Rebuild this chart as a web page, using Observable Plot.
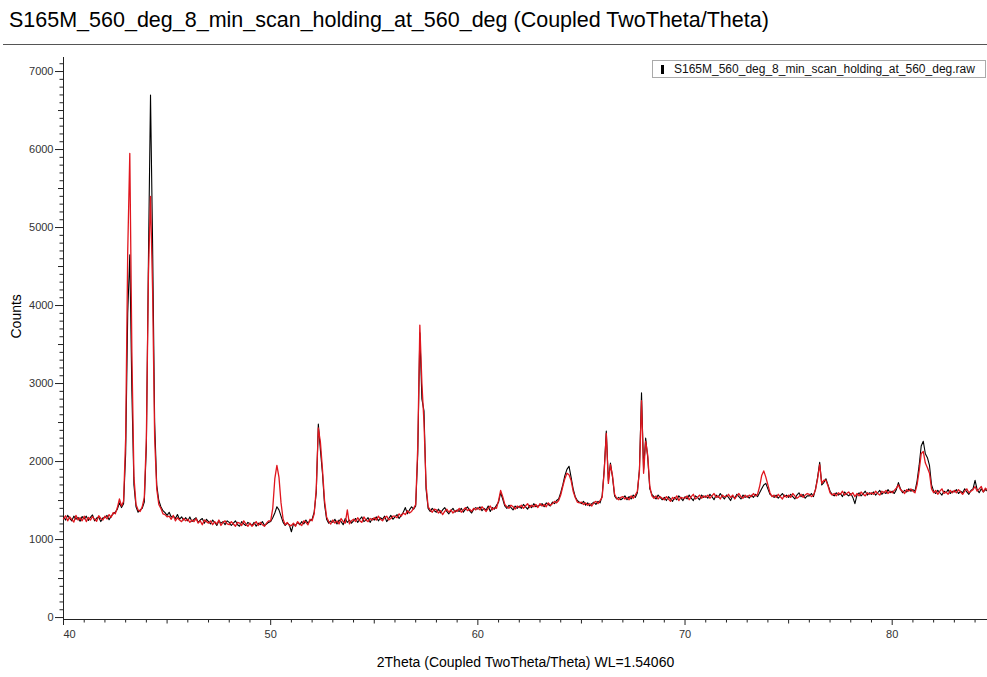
<!DOCTYPE html>
<html>
<head>
<meta charset="utf-8">
<script src="https://cdn.jsdelivr.net/npm/d3@7"></script>
<script src="https://cdn.jsdelivr.net/npm/@observablehq/plot@0.6"></script>
<style>
  body { margin: 0; background: #fff; font-family: Arial, "Liberation Sans", sans-serif; }
  #wrap { position: relative; width: 987px; height: 677px; overflow: hidden; background: #fff; }
  #title { position: absolute; left: 9px; top: 7px; font-size: 21.5px; color: #000; white-space: nowrap; line-height: 26px; }
  #rule { position: absolute; left: 3px; width: 984px; top: 44px; height: 0; border-top: 1.5px solid #555; }
  #chart { position: absolute; left: 0; top: 48px; }
  #legend { position: absolute; left: 652px; top: 60px; width: 332px; height: 16px; border: 1px solid #aaa; background: #fff;
            font-size: 12px; line-height: 16px; color: #111; white-space: nowrap; }
  #legend .swatch { position: absolute; left: 8px; top: 4px; width: 3px; height: 9px; background: #000; }
  #legend .lab { position: absolute; left: 21px; top: 0; }
</style>
</head>
<body>
<div id="wrap">
  <div id="title"></div>
  <div id="rule"></div>
  <div id="chart"></div>
  <div id="legend"><div class="swatch"></div><div class="lab"></div></div>
</div>
<script>
const chartTitle = "S165M_560_deg_8_min_scan_holding_at_560_deg (Coupled TwoTheta/Theta)";
const legendLabel = "S165M_560_deg_8_min_scan_holding_at_560_deg.raw";
const xLabel = "2Theta (Coupled TwoTheta/Theta) WL=1.54060";
const yLabel = "Counts";

const xTickValues = [40, 50, 60, 70, 80];
const yTickValues = [0, 1000, 2000, 3000, 4000, 5000, 6000, 7000];

// scan grid: 2theta from 40.0 in steps of 0.1 degree
const twoThetaStart = 40.0;
const twoThetaStep = 0.1;

// black trace counts (one row per degree, 40.x ... 84.x)
const blackCounts = [
  1290,1250,1310,1270,1240,1300,1260,1285,1235,1295, // 40
  1265,1300,1245,1285,1315,1240,1275,1290,1230,1280, // 41
  1280,1310,1255,1300,1330,1350,1390,1470,1410,1460, // 42
  2100,3900,4650,2900,1700,1420,1350,1380,1400,1480, // 43
  2200,4600,6700,4800,2500,1700,1500,1420,1370,1345, // 44
  1310,1350,1290,1300,1270,1320,1260,1290,1250,1280, // 45
  1240,1290,1230,1260,1280,1220,1250,1270,1210,1260, // 46
  1230,1200,1250,1220,1180,1240,1210,1230,1190,1240, // 47
  1220,1180,1210,1240,1190,1170,1230,1200,1180,1220, // 48
  1200,1180,1220,1170,1210,1190,1230,1180,1200,1220, // 49
  1230,1280,1340,1420,1380,1300,1220,1180,1210,1190, // 50
  1100,1200,1180,1220,1190,1230,1200,1250,1210,1240, // 51
  1260,1350,1600,2480,2150,1850,1450,1260,1210,1240, // 52
  1220,1260,1200,1250,1230,1190,1270,1220,1250,1210, // 53
  1240,1270,1220,1260,1290,1230,1250,1280,1220,1270, // 54
  1250,1290,1240,1280,1260,1300,1230,1270,1310,1260, // 55
  1290,1320,1270,1310,1350,1410,1330,1380,1420,1390, // 56
  1430,2100,3650,2800,2650,1650,1400,1360,1400,1370, // 57
  1350,1390,1340,1380,1410,1360,1330,1370,1400,1350, // 58
  1380,1360,1400,1350,1390,1420,1370,1340,1390,1410, // 59
  1390,1420,1370,1400,1380,1430,1360,1410,1390,1440, // 60
  1480,1600,1520,1430,1400,1440,1410,1380,1430,1400, // 61
  1430,1400,1450,1420,1390,1440,1410,1460,1420,1430, // 62
  1440,1460,1420,1470,1450,1430,1480,1460,1500,1520, // 63
  1600,1700,1820,1900,1940,1800,1650,1550,1500,1480, // 64
  1460,1490,1440,1470,1430,1460,1480,1450,1490,1470, // 65
  1560,1900,2390,1750,1980,1800,1560,1520,1540,1510, // 66
  1530,1560,1510,1550,1520,1570,1540,1600,1900,2880, // 67
  1900,2300,2050,1650,1580,1550,1520,1570,1540,1510, // 68
  1540,1500,1550,1520,1490,1540,1510,1560,1530,1500, // 69
  1550,1520,1570,1530,1500,1560,1540,1510,1570,1540, // 70
  1560,1530,1580,1550,1510,1570,1540,1590,1550,1520, // 71
  1570,1540,1500,1560,1530,1580,1550,1520,1570,1540, // 72
  1560,1530,1570,1540,1580,1550,1600,1650,1700,1720, // 73
  1650,1580,1560,1540,1570,1530,1560,1590,1550,1570, // 74
  1540,1580,1550,1520,1570,1600,1550,1580,1530,1560, // 75
  1560,1590,1550,1650,1800,1990,1700,1730,1780,1700, // 76
  1620,1580,1560,1600,1570,1590,1550,1610,1580,1560, // 77
  1590,1540,1460,1570,1600,1560,1590,1620,1570,1600, // 78
  1580,1610,1570,1600,1630,1580,1610,1590,1640,1600, // 79
  1620,1590,1640,1730,1650,1600,1630,1610,1650,1620, // 80
  1640,1620,1750,1950,2200,2260,2100,2050,1950,1700, // 81
  1620,1590,1630,1600,1570,1620,1600,1640,1590,1620, // 82
  1610,1640,1590,1620,1600,1650,1610,1580,1630,1650, // 83
  1760,1640,1600,1650,1610,1640,1620                 // 84
];

// red trace counts
const redCounts = [
  1265,1305,1240,1290,1255,1225,1310,1250,1280,1240, // 40
  1300,1230,1285,1250,1295,1260,1235,1305,1270,1250, // 41
  1300,1265,1320,1285,1345,1330,1410,1520,1430,1490, // 42
  2300,4700,5950,3400,1800,1450,1380,1360,1420,1540, // 43
  2300,4400,5400,4200,2300,1650,1450,1400,1330,1320, // 44
  1290,1300,1260,1310,1240,1280,1250,1230,1270,1240, // 45
  1260,1220,1250,1230,1270,1210,1240,1190,1250,1230, // 46
  1210,1240,1190,1230,1200,1250,1180,1220,1240,1200, // 47
  1190,1230,1200,1170,1220,1210,1180,1240,1200,1170, // 48
  1210,1170,1200,1230,1180,1220,1190,1170,1210,1240, // 49
  1240,1400,1780,1950,1800,1470,1260,1190,1220,1180, // 50
  1180,1210,1170,1230,1200,1180,1240,1220,1190,1260, // 51
  1240,1330,1650,2430,2250,1900,1500,1290,1230,1200, // 52
  1250,1210,1240,1200,1270,1230,1210,1380,1200,1240, // 53
  1260,1230,1280,1240,1220,1290,1250,1230,1270,1250, // 54
  1280,1250,1300,1260,1240,1280,1300,1250,1270,1300, // 55
  1300,1280,1330,1300,1340,1320,1370,1340,1360,1400, // 56
  1450,2200,3750,3000,2500,1700,1420,1380,1350,1390, // 57
  1380,1340,1370,1320,1360,1390,1350,1380,1340,1370, // 58
  1360,1400,1350,1380,1410,1370,1390,1360,1400,1380, // 59
  1410,1380,1420,1390,1360,1400,1430,1380,1410,1400, // 60
  1500,1630,1550,1450,1420,1400,1440,1420,1390,1430, // 61
  1410,1440,1400,1430,1460,1410,1440,1420,1450,1410, // 62
  1460,1430,1450,1420,1470,1440,1460,1490,1470,1500, // 63
  1570,1680,1780,1850,1830,1760,1620,1540,1480,1470, // 64
  1480,1450,1470,1440,1460,1430,1470,1490,1460,1500, // 65
  1540,1880,2360,1720,1960,1820,1580,1530,1510,1540, // 66
  1550,1520,1540,1510,1560,1530,1570,1620,1880,2780, // 67
  1850,2260,2080,1680,1560,1530,1560,1520,1550,1530, // 68
  1510,1550,1520,1490,1540,1520,1560,1500,1540,1530, // 69
  1530,1560,1510,1550,1580,1520,1540,1570,1530,1560, // 70
  1540,1570,1530,1560,1590,1540,1560,1520,1570,1550, // 71
  1550,1580,1540,1570,1520,1560,1590,1550,1530,1570, // 72
  1540,1570,1550,1590,1560,1580,1680,1820,1880,1800, // 73
  1700,1600,1550,1570,1540,1580,1550,1520,1570,1540, // 74
  1570,1540,1590,1560,1530,1550,1580,1540,1570,1590, // 75
  1580,1550,1570,1640,1780,1960,1720,1760,1760,1690, // 76
  1600,1570,1590,1560,1600,1580,1620,1570,1590,1610, // 77
  1570,1600,1550,1590,1560,1610,1580,1560,1600,1580, // 78
  1600,1580,1620,1590,1570,1620,1600,1630,1590,1620, // 79
  1600,1630,1660,1700,1640,1620,1590,1640,1620,1650, // 80
  1620,1600,1700,1880,2100,2130,1980,1920,1850,1650, // 81
  1600,1630,1580,1620,1650,1590,1610,1580,1630,1600, // 82
  1630,1600,1640,1610,1580,1620,1650,1600,1620,1640, // 83
  1680,1620,1650,1680,1610,1660,1630                 // 84
];

const scan = blackCounts.map((b, i) => ({
  twoTheta: +(twoThetaStart + i * twoThetaStep).toFixed(2),
  black: b,
  red: redCounts[i]
}));

document.getElementById("title").textContent = chartTitle;
document.querySelector("#legend .lab").textContent = legendLabel;

const font = 'Arial, "Liberation Sans", sans-serif';
const yMinorTicks = d3.range(0, 7200, 100).filter(v => v % 500 !== 0);
const yMidTicks = d3.range(500, 7200, 1000);
const xMinorTicks = d3.range(41, 85, 1).filter(v => v % 5 !== 0);
const xMidTicks = [45, 55, 65, 75];

const chart = Plot.plot({
  width: 987,
  height: 629,
  marginTop: 9,
  marginBottom: 58,
  marginLeft: 63,
  marginRight: 0,
  style: { fontFamily: font, background: "#fff", color: "#222" },
  x: { domain: [40, 84.6], label: null },
  y: { domain: [-25, 7180], label: null },
  marks: [
    Plot.axisY({ ticks: yMinorTicks, tickSize: 3.5, tickFormat: () => "", label: null, stroke: "#222" }),
    Plot.axisY({ ticks: yMidTicks, tickSize: 5, tickFormat: () => "", label: null, stroke: "#222" }),
    Plot.axisY({ ticks: yTickValues, tickSize: 8, tickPadding: 2, label: null, fontSize: 11, stroke: "#222", fill: "#333",
                 tickFormat: d => String(d) }),
    Plot.axisX({ ticks: xMinorTicks, tickSize: 3.5, tickFormat: () => "", label: null, stroke: "#222" }),
    Plot.axisX({ ticks: xMidTicks, tickSize: 4.5, tickFormat: () => "", label: null, stroke: "#222" }),
    Plot.axisX({ ticks: xTickValues, tickSize: 6, tickPadding: 5, label: null, fontSize: 11, stroke: "#222", fill: "#333",
                 tickFormat: d => d === 40 ? "" : String(d) }),
    Plot.text([xTickValues[0]], { x: d => d, text: d => String(d), frameAnchor: "bottom", dy: 11, textAnchor: "start",
                 lineAnchor: "top", fontSize: 11, fill: "#333" }),
    Plot.ruleX([40], { stroke: "#222", strokeWidth: 1 }),
    Plot.ruleY([-25], { stroke: "#222", strokeWidth: 1 }),
    Plot.line(scan, { x: "twoTheta", y: "black", stroke: "#000", strokeWidth: 1.1 }),
    Plot.line(scan, { x: "twoTheta", y: "red", stroke: "#e0161e", strokeWidth: 1.3 }),
    Plot.text([yLabel], { text: d => d, frameAnchor: "left", dx: -47, rotate: -90, fontSize: 14, fill: "#000" }),
    Plot.text([xLabel], { text: d => d, frameAnchor: "bottom", dy: 47, fontSize: 14, fill: "#000" })
  ]
});
document.getElementById("chart").appendChild(chart);
</script>
</body>
</html>
